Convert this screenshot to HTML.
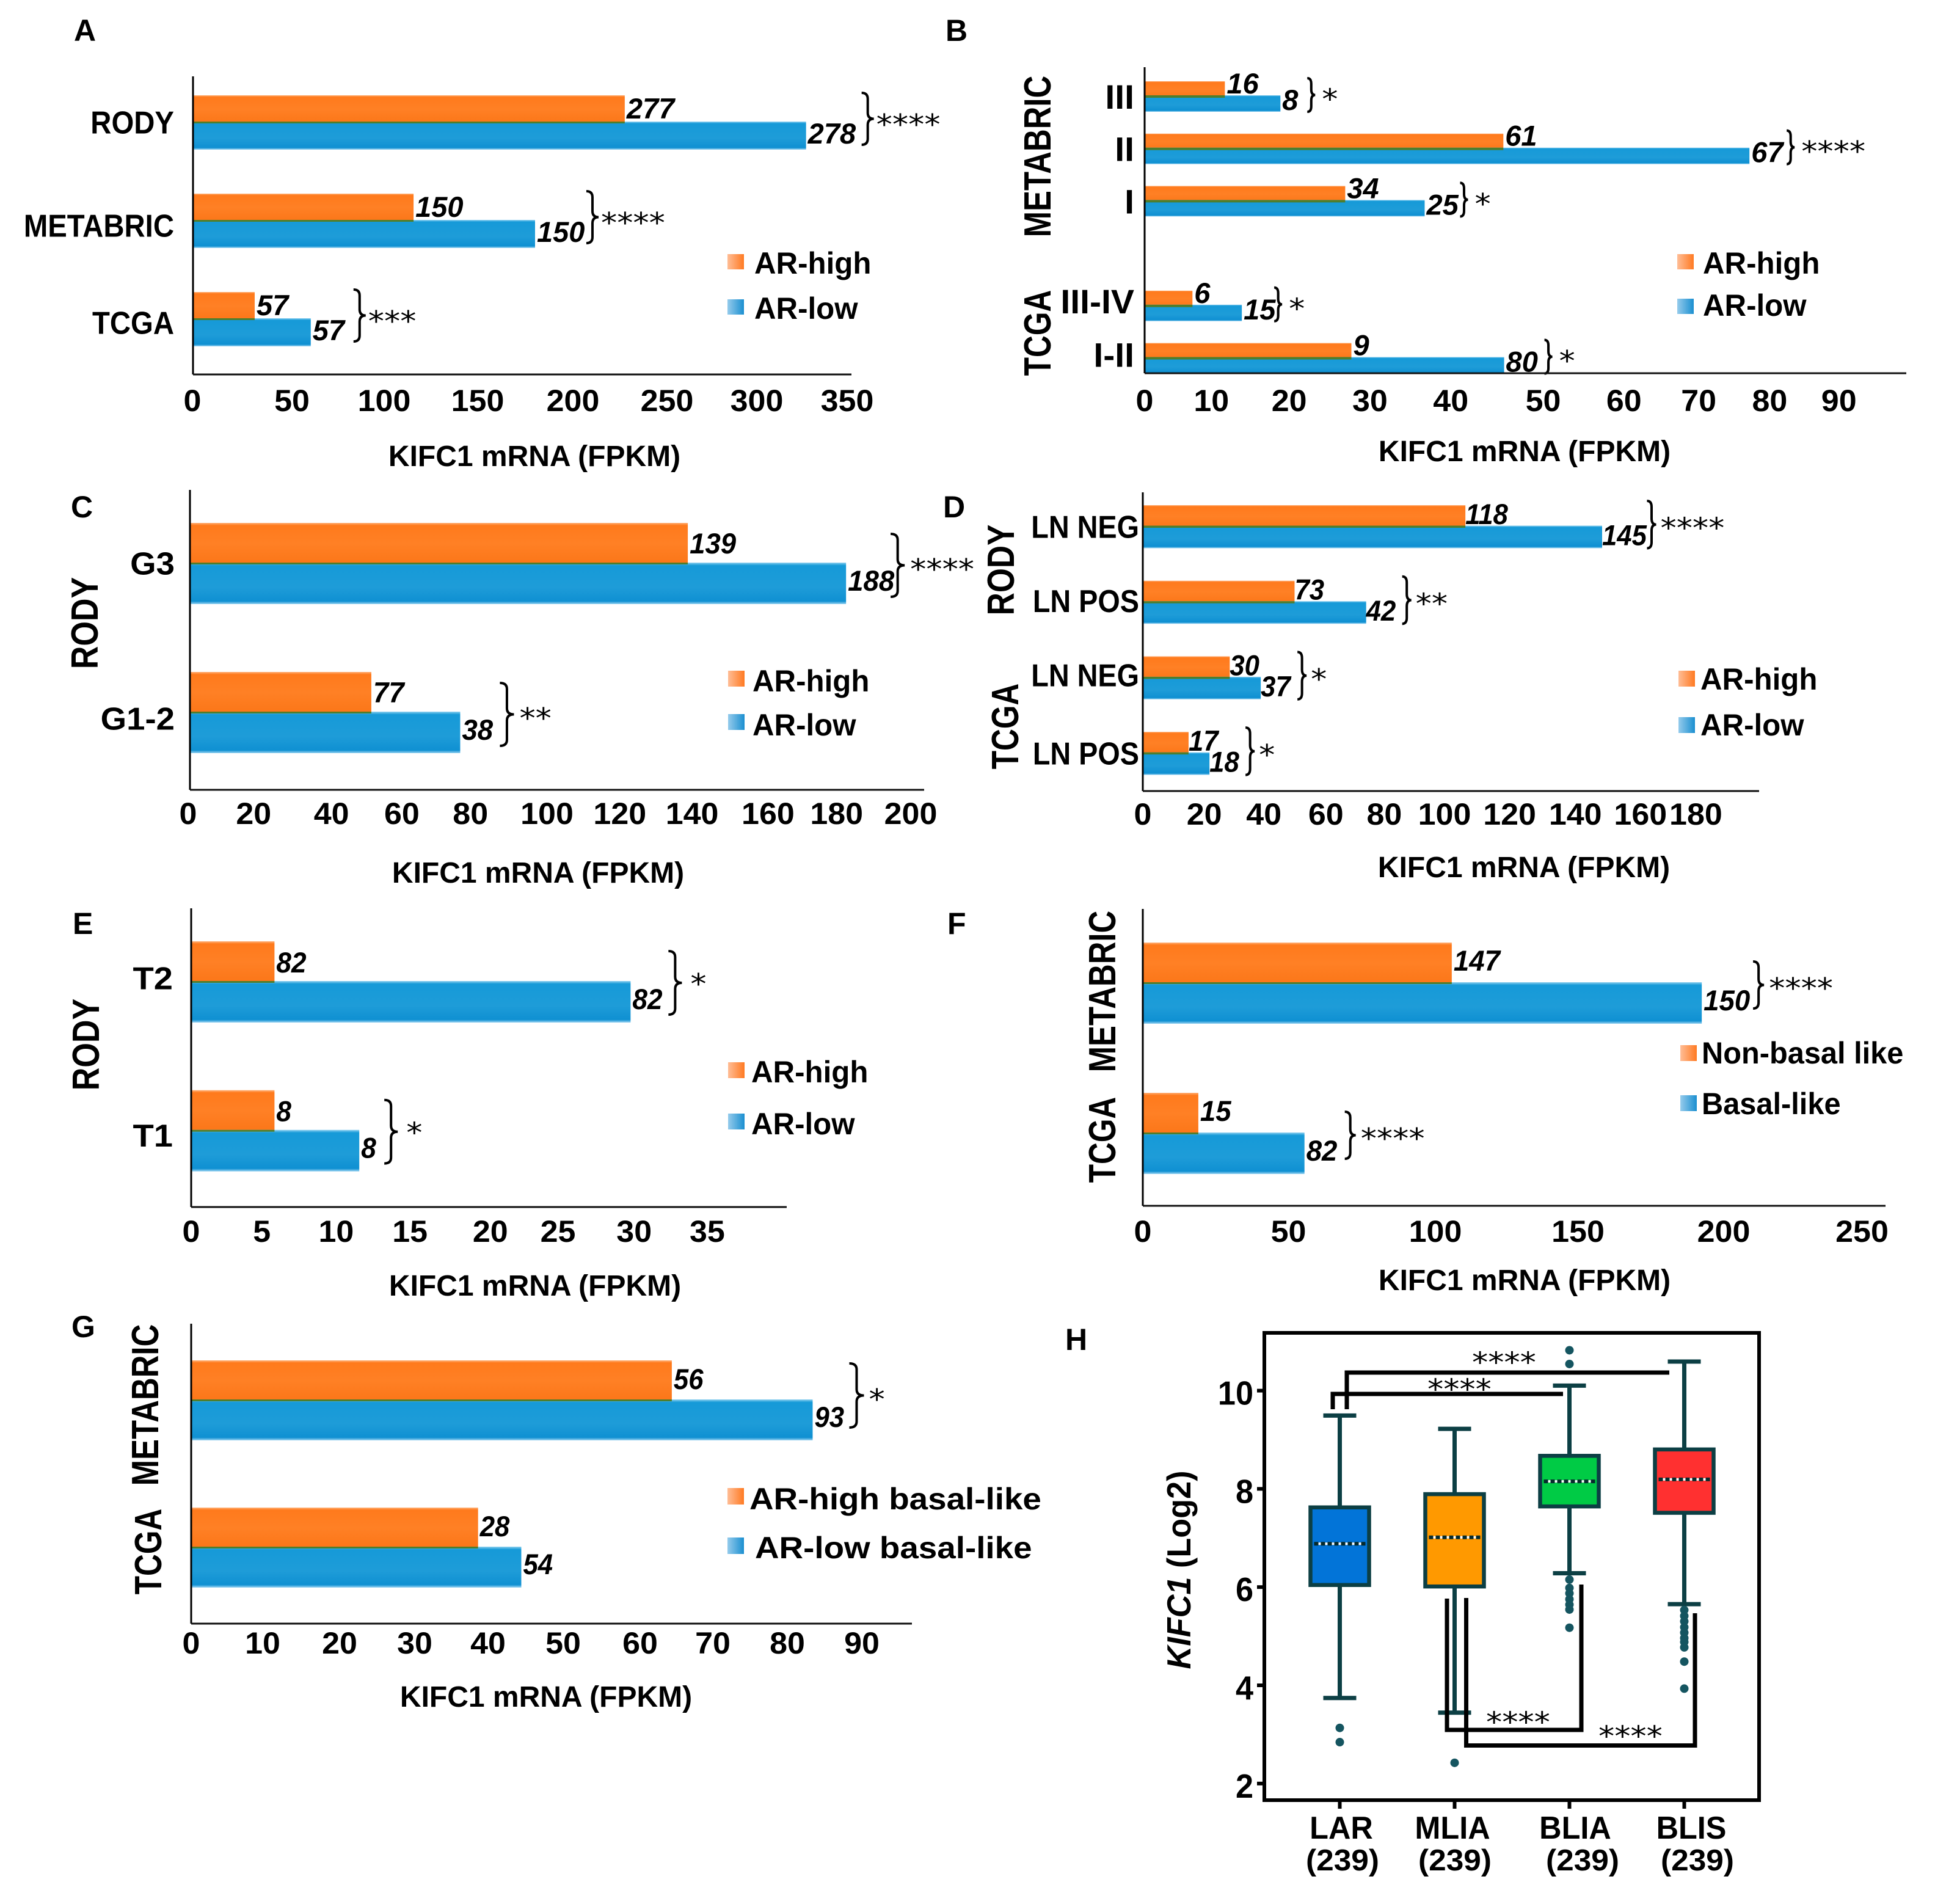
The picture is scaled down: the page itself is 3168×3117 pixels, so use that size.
<!DOCTYPE html>
<html lang="en">
<head>
<meta charset="utf-8">
<title>KIFC1 mRNA expression panels</title>
<style>
html,body{margin:0;padding:0;background:#fff;}
svg{display:block;}
text{font-family:"Liberation Sans",sans-serif;fill:#000;}
</style>
</head>
<body>
<svg id="figure" xmlns="http://www.w3.org/2000/svg" width="3168" height="3117" viewBox="0 0 3168 3117">
<defs>
<linearGradient id="gO" x1="0" y1="0" x2="0" y2="1"><stop offset="0" stop-color="#ffb27a"/><stop offset=".06" stop-color="#ff7a1c"/><stop offset=".5" stop-color="#ff8025"/><stop offset="1" stop-color="#fb7618"/></linearGradient>
<linearGradient id="gB" x1="0" y1="0" x2="0" y2="1"><stop offset="0" stop-color="#8ed0f0"/><stop offset=".07" stop-color="#169ad8"/><stop offset=".6" stop-color="#1e9cd8"/><stop offset=".93" stop-color="#0f90d2"/><stop offset="1" stop-color="#9bd4f2"/></linearGradient>
<linearGradient id="sO" x1="0" y1="0" x2="1" y2="0"><stop offset="0" stop-color="#ffbd96"/><stop offset="1" stop-color="#ff7a22"/></linearGradient>
<linearGradient id="sB" x1="0" y1="0" x2="1" y2="0"><stop offset="0" stop-color="#95cbec"/><stop offset="1" stop-color="#1a8fd0"/></linearGradient>
</defs>
<rect width="3168" height="3117" fill="#fff"/>
<g font-size="50" font-weight="700">
<text transform="translate(121,67)">A</text>
<text transform="translate(1548,67)">B</text>
<text transform="translate(116,847)">C</text>
<text transform="translate(1544,847)">D</text>
<text transform="translate(119,1529)">E</text>
<text transform="translate(1551,1529)">F</text>
<text transform="translate(117,2189)">G</text>
<text transform="translate(1744,2210)">H</text>
</g>
<text transform="translate(1949,2570) rotate(-90) scale(.95,1)" text-anchor="middle" font-size="55" font-weight="700"><tspan font-style="italic">KIFC1</tspan> (Log2)</text>
</svg>
<script>
// Panel A
const aCategories = ["RODY", "METABRIC", "TCGA"];
const aHigh = [231, 118, 33];
const aLow = [328, 183, 63];
const aHighN = ["277", "150", "57"];
const aLowN = ["278", "150", "57"];
const aStars = ["****", "****", "***"];
const aTicks = [0, 50, 100, 150, 200, 250, 300, 350];
// Panel B
const bCategories = ["III", "II", "I", "", "III-IV", "I-II"];
const bHigh = [10.4, 46.5, 26, null, 6.2, 26.8];
const bLow = [17.6, 78.4, 36.3, null, 12.6, 46.6];
const bHighN = ["16", "61", "34", "", "6", "9"];
const bLowN = ["8", "67", "25", "", "15", "80"];
const bStars = ["*", "****", "*", "", "*", "*"];
const bTicks = [0, 10, 20, 30, 40, 50, 60, 70, 80, 90];
// Panel C
const cCategories = ["G3", "G1-2"];
const cHigh = [137.8, 50.2];
const cLow = [181.6, 74.8];
const cHighN = ["139", "77"];
const cLowN = ["188", "38"];
const cStars = ["****", "**"];
const cTicks = [0, 20, 40, 60, 80, 100, 120, 140, 160, 180, 200];
// Panel D
const dCategories = ["LN NEG", "LN POS", "LN NEG", "LN POS"];
const dHigh = [105, 49.4, 28.3, 14.9];
const dLow = [149.5, 72.7, 38.4, 21.7];
const dHighN = ["118", "73", "30", "17"];
const dLowN = ["145", "42", "37", "18"];
const dStars = ["****", "**", "*", "*"];
const dTicks = [0, 20, 40, 60, 80, 100, 120, 140, 160, 180];
// Panel E
const eCategories = ["T2", "T1"];
const eHigh = [5.65, 5.65];
const eLow = [29.8, 11.4];
const eHighN = ["82", "8"];
const eLowN = ["82", "8"];
const eStars = ["*", "*"];
const eTicks = [0, 5, 10, 15, 20, 25, 30, 35];
// Panel F
const fCategories = ["", ""];
const fHigh = [107.4, 19.3];
const fLow = [194.3, 56.2];
const fHighN = ["147", "15"];
const fLowN = ["150", "82"];
const fStars = ["****", "****"];
const fTicks = [0, 50, 100, 150, 200, 250];
// Panel G
const gCategories = ["", ""];
const gHigh = [64.5, 38.5];
const gLow = [83.4, 44.3];
const gHighN = ["56", "28"];
const gLowN = ["93", "54"];
const gStars = ["*", ""];
const gTicks = [0, 10, 20, 30, 40, 50, 60, 70, 80, 90];
// Panel H
const hCategories = ["LAR", "MLIA", "BLIA", "BLIS"];
const hCounts = ["(239)", "(239)", "(239)", "(239)"];
const hWhiskerHigh = [9.53, 9.26, 10.14, 10.63];
const hQ3 = [7.66, 7.93, 8.71, 8.84];
const hMedian = [6.92, 7.05, 8.19, 8.23];
const hQ1 = [6.08, 6.05, 7.68, 7.55];
const hWhiskerLow = [3.78, 3.48, 6.32, 5.69];
const hFliers = [
  [3.17, 2.88],
  [2.46],
  [10.86, 10.58, 6.19, 6.02, 5.91, 5.79, 5.68, 5.58, 5.21],
  [5.57, 5.45, 5.34, 5.22, 5.11, 5.0, 4.92, 4.81, 4.52, 3.97]
];
const hYTicks = [2, 4, 6, 8, 10];

const svg = document.getElementById('figure');
const NS = 'http://www.w3.org/2000/svg';

function mk(tag, attrs, parent) {
  const el = document.createElementNS(NS, tag);
  for (const k in attrs) el.setAttribute(k, attrs[k]);
  (parent || svg).appendChild(el);
  return el;
}
function label(str, x, y, o, parent, name) {
  const rot = o.rot ? ' rotate(' + o.rot + ')' : '';
  const el = mk('text', {
    transform: 'translate(' + x + ',' + y + ')' + rot + ' scale(' + (o.sx || 1) + ',1)',
    'font-size': o.size || 46,
    'font-weight': o.weight || 700,
    'font-style': o.italic ? 'italic' : 'normal',
    'text-anchor': o.anchor || 'start'
  }, parent);
  if (o.family) el.style.fontFamily = o.family;
  el.textContent = str;
  
  
  return el;
}
function stars(str, x, cy, parent) {
  label(str, x, cy + 0.51 * 46, { size: 46, sx: 1.14, weight: 400, family: '"DejaVu Sans",sans-serif' }, parent, 'significance-stars');
}
function brace(x, w, t, b, parent) {
  const h = x + w * 0.5, m = (t + b) / 2, r = Math.min(10, (b - t) / 6);
  const el = mk('path', {
    d: 'M' + x + ',' + t + ' Q' + h + ',' + t + ' ' + h + ',' + (t + r) + ' L' + h + ',' + (m - r) +
       ' Q' + h + ',' + m + ' ' + (x + w) + ',' + m + ' Q' + h + ',' + m + ' ' + h + ',' + (m + r) +
       ' L' + h + ',' + (b - r) + ' Q' + h + ',' + b + ' ' + x + ',' + b,
    fill: 'none', stroke: '#000', 'stroke-width': 4
  }, parent);
  
  
}

const panels = [
 { key:'a', cats:aCategories, high:aHigh, low:aLow, highN:aHighN, lowN:aLowN, st:aStars, ticks:aTicks,
   x0:316, top:125, bottom:613, xEnd:1394, ppu:3.06, barTop:156, step:161, barH:46, blueOff:43,
   nudge:[-1,9,7,7,10,11,5,0], tickY:673, titleX:875, titleY:763, catX:285, catDy:24, catSize:52, catSx:.91, catN:[-6,2,0],
   lblDx:3, lblO:38, lblB:36, cw:27, lblSx:1, brW:20, brT:-4, brB:-8, brN:[7,0,13], starDx:24, starDy:-4,
   legend:{sx:1191,sw:27,y1:416,y2:490,sh:25,tx:1235,b1:448,b2:522,t1:'AR-high',t2:'AR-low',tsx:.985},
   side:[] },
 { key:'b', cats:bCategories, high:bHigh, low:bLow, highN:bHighN, lowN:bLowN, st:bStars, ticks:bTicks,
   x0:1874, top:110, bottom:611, xEnd:3121, ppu:12.63, barTop:133, step:85.7, barH:27, blueOff:23,
   nudge:[0,-17,-16,-10,-4,21,27,23,13,0], tickY:673, titleX:2496, titleY:755, catX:1857, catDy:20, catSize:56, catSx:1.02, catN:[0,0,0,0,-8,-6],
   lblDx:3, lblO:20, lblB:24, cw:27, lblSx:1, brW:13, brT:-5, brB:0, brN:[14,4,1,0,-4,9], starDx:24, starDy:-3,
   legend:{sx:2746,sw:27,y1:416,y2:489,sh:25,tx:2788,b1:448,b2:517,t1:'AR-high',t2:'AR-low',tsx:.985},
   side:[{t:'METABRIC',x:1720,y:256,sx:.82},{t:'TCGA',x:1720,y:545,sx:.8}] },
 { key:'c', cats:cCategories, high:cHigh, low:cLow, highN:cHighN, lowN:cLowN, st:cStars, ticks:cTicks,
   x0:311, top:802, bottom:1293, xEnd:1513, ppu:5.915, barTop:856, step:244, barH:68, blueOff:65,
   nudge:[-3,-14,-5,-8,-14,-7,-6,-6,0,-6,-3], tickY:1349, titleX:881, titleY:1445, catX:286, catDy:26, catSize:52, catSx:1.05, catN:[-8,2],
   lblDx:3, lblO:50, lblB:46, cw:26, lblSx:.97, brW:23, brT:18, brB:-12, brN:[-8,10], starDx:32, starDy:2,
   legend:{sx:1192,sw:27,y1:1098,y2:1169,sh:26,tx:1232,b1:1132,b2:1204,t1:'AR-high',t2:'AR-low',tsx:.985},
   side:[{t:'RODY',x:160,y:1020,sx:.84}] },
 { key:'d', cats:dCategories, high:dHigh, low:dLow, highN:dHighN, lowN:dLowN, st:dStars, ticks:dTicks,
   x0:1871, top:806, bottom:1295, xEnd:2880, ppu:5.03, barTop:827, step:123.7, barH:37, blueOff:33.5,
   nudge:[0,0,-3,-2,-7,-9,-3,4,10,0], tickY:1350, titleX:2495, titleY:1436, catX:1865, catDy:18, catSize:52, catSx:.9, catN:[0,-2,-4,0],
   lblDx:0, lblO:31, lblB:32, cw:24.5, lblSx:.93, brW:15, brT:-7, brB:0, brN:[0,10,11,10], starDx:22, starDy:-5,
   legend:{sx:2748,sw:27,y1:1098,y2:1174,sh:26,tx:2784,b1:1129,b2:1204,t1:'AR-high',t2:'AR-low',tsx:.985},
   side:[{t:'RODY',x:1660,y:933,sx:.83},{t:'TCGA',x:1667,y:1189,sx:.8}] },
 { key:'e', cats:eCategories, high:eHigh, low:eLow, highN:eHighN, lowN:eLowN, st:eStars, ticks:eTicks,
   x0:313, top:1487, bottom:1976, xEnd:1288, ppu:24.14, barTop:1541, step:243.7, barH:68, blueOff:65,
   nudge:[0,-5,-4,-4,7,-3,1,0], tickY:2033, titleX:876, titleY:2121, catX:283, catDy:20, catSize:52, catSx:1.08, catN:[-8,6],
   lblDx:3, lblO:51, lblB:46, cw:25, lblSx:.94, brW:22, brT:16, brB:-13, brN:[9,13], starDx:36, starDy:-4,
   legend:{sx:1192,sw:27,y1:1739,y2:1823,sh:26,tx:1230,b1:1772,b2:1857,t1:'AR-high',t2:'AR-low',tsx:.985},
   side:[{t:'RODY',x:162,y:1710,sx:.84}] },
 { key:'f', cats:fCategories, high:fHigh, low:fLow, highN:fHighN, lowN:fLowN, st:fStars, ticks:fTicks,
   x0:1871, top:1488, bottom:1974, xEnd:3087, ppu:4.71, barTop:1543, step:246, barH:68, blueOff:65,
   nudge:[0,3,8,6,9,0], tickY:2033, titleX:2496, titleY:2112, catX:0, catDy:0, catSize:48, catN:[0,0],
   lblDx:3, lblO:46, lblB:46, cw:26, lblSx:.97, brW:18, brT:31, brB:-25, brN:[3,11], starDx:26, starDy:1,
   legend:{sx:2751,sw:27,y1:1711,y2:1793,sh:26,tx:2786,b1:1741,b2:1824,t1:'Non-basal like',t2:'Basal-like',tsx:.975},
   side:[{t:'METABRIC',x:1826,y:1623,sx:.82},{t:'TCGA',x:1826,y:1866,sx:.8}] },
 { key:'g', cats:gCategories, high:gHigh, low:gLow, highN:gHighN, lowN:gLowN, st:gStars, ticks:gTicks,
   x0:313, top:2167, bottom:2658, xEnd:1493, ppu:12.2, barTop:2227, step:241, barH:67, blueOff:64,
   nudge:[0,-5,-1,0,-2,-1,3,0,0,0], tickY:2707, titleX:894, titleY:2794, catX:0, catDy:0, catSize:48, catN:[0,0],
   lblDx:3, lblO:47, lblB:45, cw:25, lblSx:.93, brW:24, brT:5, brB:-21, brN:[7,0], starDx:32, starDy:-9,
   legend:{sx:1191,sw:27,y1:2436,y2:2517,sh:27,tx:1227,tx2:1236,b1:2471,b2:2551,t1:'AR-high basal-like',t2:'AR-low basal-like',tsx:1.096},
   side:[{t:'METABRIC',x:259,y:2300,sx:.82},{t:'TCGA',x:264,y:2540,sx:.8}] }
];

function xScale(p, v) { return p.x0 + v * p.ppu; }
function groupTop(p, i) { return p.barTop + i * p.step; }

panels.forEach(function (p) {
  const g = mk('g', {});
  
  

  p.cats.forEach(function (cat, i) {
    if (p.high[i] === null) return;
    const t = groupTop(p, i);
    const endH = xScale(p, p.high[i]);
    const endL = xScale(p, p.low[i]);
    const orange = mk('rect', { x: p.x0, y: t, width: endH - p.x0, height: p.barH, fill: 'url(#gO)' }, g);
    
    
    const blue = mk('rect', { x: p.x0, y: t + p.blueOff, width: endL - p.x0, height: p.barH, fill: 'url(#gB)' }, g);
    
    
    const strip = mk('rect', { x: p.x0, y: t + p.blueOff, width: Math.min(endH, endL) - p.x0, height: Math.max(p.barH - p.blueOff, 3), fill: '#4e7e2d' }, g);
    
    

    label(p.highN[i], endH + p.lblDx, t + p.lblO, { size: 47, sx: p.lblSx, italic: true }, g, 'count-label-high');
    label(p.lowN[i], endL + p.lblDx, t + p.blueOff + p.lblB, { size: 47, sx: p.lblSx, italic: true }, g, 'count-label-low');

    const gTop = t, gBot = t + p.blueOff + p.barH;
    if (p.st[i]) {
      const bx = endL + p.lblDx + p.lowN[i].length * p.cw + p.brN[i];
      brace(bx, p.brW, gTop + p.brT, gBot + p.brB, g);
      stars(p.st[i], bx + p.starDx, (gTop + gBot) / 2 + p.starDy, g);
    }
    if (cat) {
      label(cat, p.catX, (gTop + gBot) / 2 + p.catDy + p.catN[i], { size: p.catSize, sx: p.catSx || 1, anchor: 'end' }, g, 'category-label');
    }
  });

  const yAxis = mk('line', { x1: p.x0, y1: p.top, x2: p.x0, y2: p.bottom, stroke: '#000', 'stroke-width': 3 }, g);
  
  
  const xAxis = mk('line', { x1: p.x0, y1: p.bottom, x2: p.xEnd, y2: p.bottom, stroke: '#111', 'stroke-width': 3 }, g);
  
  

  p.ticks.forEach(function (v, i) {
    label(String(v), xScale(p, v) + p.nudge[i], p.tickY, { size: 50, sx: 1.04, anchor: 'middle' }, g, 'x-tick-label');
  });
  label('KIFC1 mRNA (FPKM)', p.titleX, p.titleY, { size: 48, sx: 1.0, anchor: 'middle' }, g, 'x-axis-title');

  const L = p.legend;
  const s1 = mk('rect', { x: L.sx, y: L.y1, width: L.sw, height: L.sh, fill: 'url(#sO)' }, g);
  
  
  const s2 = mk('rect', { x: L.sx, y: L.y2, width: L.sw, height: L.sh, fill: 'url(#sB)' }, g);
  
  
  label(L.t1, L.tx, L.b1, { size: 50, sx: L.tsx }, g, 'legend-label-high');
  label(L.t2, L.tx2 || L.tx, L.b2, { size: 50, sx: L.tsx }, g, 'legend-label-low');

  p.side.forEach(function (s) {
    label(s.t, s.x, s.y, { size: 62, sx: s.sx, rot: -90, anchor: 'middle' }, g, 'dataset-side-label');
  });
});

// Panel H box plot
const H = { left: 2070, right: 2880, top: 2182, bottom: 2947, x0: 2193.5, step: 188, y10: 2279.6, ppu: 80.4 };
function hx(i) { return H.x0 + i * H.step; }
function hy(v) { return H.y10 + (10 - v) * H.ppu; }
const hColors = ['#0274d8', '#ff9900', '#00cb45', '#ff3030'];
const hCatX = [2196, 2378, 2579, 2769];
const hCountX = [2198, 2382, 2591, 2779];
const EDGE = '#0c3f44';
const hG = mk('g', {});



const frame = mk('rect', { x: H.left, y: H.top, width: H.right - H.left, height: H.bottom - H.top, fill: 'none', stroke: '#000', 'stroke-width': 6 }, hG);



hYTicks.forEach(function (v) {
  const yt = mk('line', { x1: H.left - 12, y1: hy(v) - 3, x2: H.left, y2: hy(v) - 3, stroke: '#000', 'stroke-width': 6 }, hG);
  
  
  label(String(v), 2052, hy(v) + 20, { size: 55, sx: .95, anchor: 'end' }, hG, 'y-tick-label');
});

hCategories.forEach(function (cat, i) {
  const x = hx(i);
  const tick = mk('line', { x1: x, y1: H.bottom, x2: x, y2: H.bottom + 14, stroke: '#000', 'stroke-width': 6 }, hG);
  
  
  const stem = mk('line', { x1: x, y1: hy(hWhiskerHigh[i]), x2: x, y2: hy(hWhiskerLow[i]), stroke: EDGE, 'stroke-width': 7 }, hG);
  
  
  [hWhiskerHigh[i], hWhiskerLow[i]].forEach(function (v) {
    const cap = mk('line', { x1: x - 27, y1: hy(v), x2: x + 27, y2: hy(v), stroke: EDGE, 'stroke-width': 7 }, hG);
    
    
  });
  const box = mk('rect', { x: x - 48, y: hy(hQ3[i]), width: 96, height: hy(hQ1[i]) - hy(hQ3[i]), fill: hColors[i], stroke: EDGE, 'stroke-width': 6.5 }, hG);
  
  
  const mw = mk('line', { x1: x - 42, y1: hy(hMedian[i]), x2: x + 42, y2: hy(hMedian[i]), stroke: '#fff', 'stroke-width': 4 }, hG);
  
  
  const md = mk('line', { x1: x - 42, y1: hy(hMedian[i]), x2: x + 42, y2: hy(hMedian[i]), stroke: '#062a2c', 'stroke-width': 6, 'stroke-dasharray': '7 4' }, hG);
  
  
  hFliers[i].forEach(function (v) {
    const c = mk('circle', { cx: x, cy: hy(v), r: 7, fill: '#155560' }, hG);
    
    
  });
  label(cat, hCatX[i], 3010, { size: 52, sx: .97, anchor: 'middle' }, hG, 'category-label');
  label(hCounts[i], hCountX[i], 3062, { size: 49, sx: 1.05, anchor: 'middle' }, hG, 'sample-count-label');
});

const sigPaths = [
  'M2205,2307 V2247 H2733',
  'M2182,2307 V2282 H2559',
  'M2369,2617 V2832 H2589 V2594',
  'M2400.5,2616 V2857.5 H2775 V2641'
];
sigPaths.forEach(function (d) {
  const sp = mk('path', { d: d, fill: 'none', stroke: '#000', 'stroke-width': 7 }, hG);
  
  
});
stars('****', 2410, 2223, hG);
stars('****', 2337, 2267, hG);
stars('****', 2433, 2812, hG);
stars('****', 2617, 2835, hG);
</script>
</body>
</html>
